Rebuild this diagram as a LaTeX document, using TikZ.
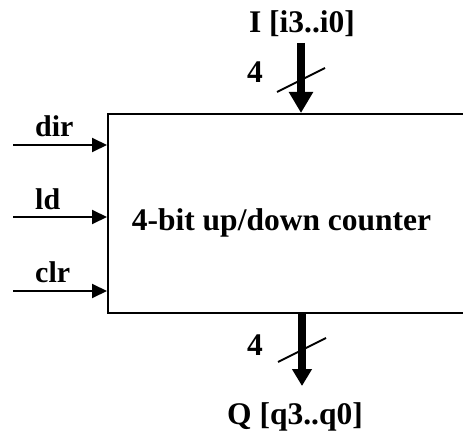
\documentclass[tikz,border=0pt]{standalone}
\usepackage{fontspec}
\setmainfont{Liberation Serif}
\usetikzlibrary{positioning,arrows.meta}
\tikzset{
  sigarr/.style={-{Triangle[length=15pt,width=14pt]},line width=2pt},
  busarr/.style={-{Triangle[length=21pt,width=23pt]},line width=8pt},
  busarr2/.style={-{Triangle[length=17pt,width=19pt]},line width=8pt},
  slash/.style={line width=2pt},
  block/.style={draw=black,line width=2pt,inner sep=0pt,minimum width=372pt,minimum height=199pt},
  lbl/.style={inner sep=0pt,font=\fontsize{31.5}{37}\selectfont\bfseries},
  siglbl/.style={inner sep=0pt,anchor=base west,font=\fontsize{30}{35}\selectfont\bfseries}
}
\begin{document}
\begin{tikzpicture}[x=1pt,y=-1pt]
\clip (0,0) rectangle (463,433);
\fill[white] (0,0) rectangle (463,433);

\node[block] (ctr) at (294,213.5) {};
\node[lbl,anchor=base] (title) at (281.5,230) {4-bit up/down counter};

% control inputs
\coordinate (dirin) at (13,145);
\coordinate (ldin)  at (13,217);
\coordinate (clrin) at (13,291);
\node[siglbl] (dir) at (35,137) {dir};
\node[siglbl] (ld)  at (35,209) {ld};
\node[siglbl] (clr) at (35,282) {clr};
\draw[sigarr] (dirin) -- (dirin -| ctr.west);
\draw[sigarr] (ldin)  -- (ldin -| ctr.west);
\draw[sigarr] (clrin) -- (clrin -| ctr.west);

% data bus in
\coordinate (iin) at (301,43);
\coordinate (ibus) at (301,80);
\node[lbl,anchor=base] (iname) at (302,33) {I [i3..i0]};
\node[lbl,anchor=base] (iwidth) at (255,83) {4};
\draw[busarr] (iin) -- (iin |- ctr.north);
\draw[slash] (ibus) ++(-24,12) -- ++(48,-24);

% data bus out
\coordinate (qout) at (302,386);
\coordinate (qbus) at (302,350);
\node[lbl,anchor=base] (qname) at (295,424) {Q [q3..q0]};
\node[lbl,anchor=base] (qwidth) at (255,355) {4};
\draw[busarr2] (qout |- ctr.south) -- (qout);
\draw[slash] (qbus) ++(-24,12) -- ++(48,-24);
\end{tikzpicture}
\end{document}
